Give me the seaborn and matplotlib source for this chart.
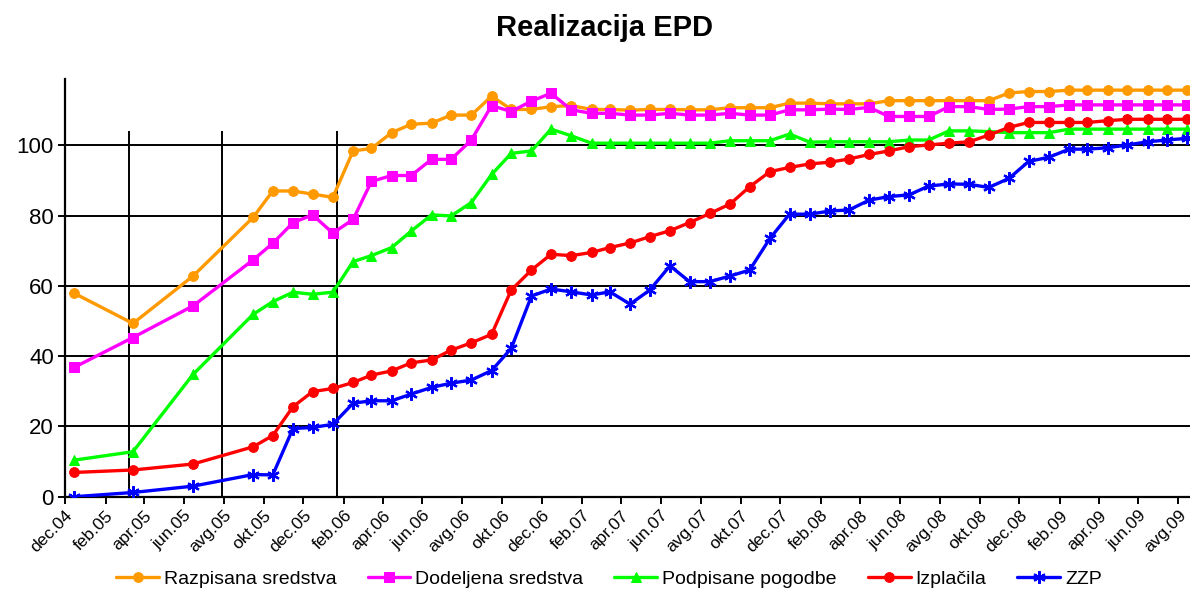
import matplotlib
matplotlib.use("Agg")
import matplotlib.pyplot as plt
import seaborn as sns
import pandas as pd

# ---------------- data ----------------
months = [
    "2004-12", "2005-03", "2005-06", "2005-09", "2005-10", "2005-11", "2005-12",
    "2006-01", "2006-02", "2006-03", "2006-04", "2006-05", "2006-06", "2006-07",
    "2006-08", "2006-09", "2006-10", "2006-11", "2006-12", "2007-01", "2007-02",
    "2007-03", "2007-04", "2007-05", "2007-06", "2007-07", "2007-08", "2007-09",
    "2007-10", "2007-11", "2007-12", "2008-01", "2008-02", "2008-03", "2008-04",
    "2008-05", "2008-06", "2008-07", "2008-08", "2008-09", "2008-10", "2008-11",
    "2008-12", "2009-01", "2009-02", "2009-03", "2009-04", "2009-05", "2009-06",
    "2009-07", "2009-08",
]

razpisana = [57.9, 49.3, 62.8, 79.5, 87.0, 87.0, 86.1, 85.2, 98.4, 99.1, 103.6,
             106.0, 106.3, 108.6, 108.6, 114.0, 110.2, 110.2, 111.0, 111.3, 110.2,
             110.2, 110.0, 110.2, 110.2, 110.1, 110.1, 110.7, 110.7, 110.7, 112.0,
             112.0, 111.8, 111.8, 111.8, 112.7, 112.7, 112.7, 112.7, 112.7, 112.7,
             114.9, 115.3, 115.3, 115.7, 115.7, 115.7, 115.7, 115.7, 115.7, 115.7]

dodeljena = [36.8, 45.3, 54.3, 67.4, 72.1, 78.0, 80.2, 75.0, 78.9, 89.7, 91.4,
             91.4, 96.0, 96.0, 101.5, 111.3, 109.6, 112.6, 114.8, 110.1, 109.1,
             109.1, 108.6, 108.6, 109.1, 108.6, 108.6, 109.1, 108.6, 108.6, 110.1,
             110.1, 110.3, 110.2, 110.8, 108.2, 108.2, 108.2, 111.0, 111.0, 110.2,
             110.3, 111.0, 111.0, 111.5, 111.5, 111.5, 111.5, 111.5, 111.5, 111.5]

podpisane = [10.4, 12.8, 34.8, 51.9, 55.5, 58.2, 57.6, 58.2, 66.9, 68.6, 70.9,
             75.6, 80.2, 79.9, 83.7, 91.7, 97.7, 98.4, 104.6, 102.7, 100.6,
             100.6, 100.6, 100.6, 100.6, 100.6, 100.6, 101.3, 101.3, 101.3, 103.2,
             100.9, 101.0, 101.0, 101.0, 101.0, 101.5, 101.5, 104.1, 104.1, 103.9,
             103.6, 103.6, 103.6, 104.6, 104.6, 104.6, 104.6, 104.6, 104.6, 104.6]

izplacila = [6.9, 7.6, 9.3, 14.2, 17.4, 25.6, 29.9, 30.8, 32.5, 34.6, 35.8,
             38.1, 38.9, 41.7, 43.8, 46.2, 58.8, 64.5, 69.0, 68.6, 69.5,
             70.9, 72.2, 74.0, 75.7, 78.0, 80.6, 83.3, 88.2, 92.5, 93.7,
             94.7, 95.2, 96.1, 97.4, 98.4, 99.6, 100.1, 100.6, 101.0, 102.9,
             105.1, 106.5, 106.5, 106.5, 106.5, 107.0, 107.4, 107.4, 107.4, 107.4]

zzp = [0.0, 1.2, 3.0, 6.3, 6.2, 19.4, 19.7, 20.6, 26.6, 27.3, 27.3,
       29.2, 31.1, 32.3, 33.2, 35.9, 42.2, 57.1, 59.1, 58.3, 57.4,
       58.3, 54.8, 58.8, 65.7, 61.2, 61.2, 62.8, 64.5, 73.5, 80.4,
       80.4, 81.3, 81.6, 84.4, 85.4, 85.9, 88.4, 89.0, 88.9, 88.0,
       90.6, 95.4, 96.6, 98.9, 98.9, 99.3, 100.1, 101.0, 101.5, 102.0]

series_names = ["Razpisana sredstva", "Dodeljena sredstva", "Podpisane pogodbe",
                "Izplačila", "ZZP"]
event_dates = ["2005-03-09", "2005-07-29", "2006-01-21"]
event_top = 104
month_abbr = ["jan", "feb", "mar", "apr", "maj", "jun", "jul", "avg", "sep",
              "okt", "nov", "dec"]
y_ticks = [0, 20, 40, 60, 80, 100]

# ---------------- plot ----------------
sns.set_style("white")
plt.rcParams['font.family'] = ['Liberation Sans', 'DejaVu Sans']
plt.rcParams['text.color'] = 'black'
plt.rcParams['xtick.color'] = 'black'
plt.rcParams['ytick.color'] = 'black'
plt.rcParams['axes.labelcolor'] = 'black'

dates = pd.to_datetime([m + "-15" for m in months])
values = [razpisana, dodeljena, podpisane, izplacila, zzp]
colors = ["#FF9900", "#FF00FF", "#00FF00", "#FF0000", "#0000FF"]
markers = ["o", "s", "^", "o", (6, 2, 0)]

fig = plt.figure(figsize=(11.9, 5.89), dpi=100)
ax = fig.add_axes([65 / 1190, 1 - 496.7 / 589, 1125 / 1190, 119 * 3.514 / 589])

ax.vlines(pd.to_datetime(event_dates), 0, event_top, colors="black", lw=1.4, zorder=1)

for name, vals, col, mk in zip(series_names, values, colors, markers):
    kw = dict(markersize=7, markeredgecolor=col, markerfacecolor=col)
    if mk == (6, 2, 0):
        kw = dict(markersize=9, markeredgecolor=col, markeredgewidth=1.6)
    sns.lineplot(x=dates, y=vals, ax=ax, color=col, marker=mk, linewidth=2.4,
                 label=name, legend=False, zorder=3, **kw)

ax.set_ylim(0, 119)
ax.set_xlim(pd.Timestamp("2004-12-01"), pd.Timestamp("2009-08-19"))
ax.set_yticks(y_ticks)
ax.set_yticklabels([str(v) for v in y_ticks], fontsize=16)
ax.yaxis.grid(True, color="black", lw=1.4, zorder=0)
ax.xaxis.grid(False)

tick_dates = pd.date_range("2004-12-01", "2009-08-01", freq="2MS")
ax.set_xticks(tick_dates)
ax.set_xticklabels([f"{month_abbr[d.month - 1]}.{d.year % 100:02d}" for d in tick_dates],
                   rotation=45, ha="right", va="top", rotation_mode="anchor",
                   fontsize=12.5)
ax.tick_params(axis="both", direction="out", length=5, width=1.4, color="black",
               bottom=True, left=True, pad=3)
ax.set_xlabel("")
ax.set_ylabel("")

for s in ["top", "right"]:
    ax.spines[s].set_visible(False)
for s in ["left", "bottom"]:
    ax.spines[s].set_color("black")
    ax.spines[s].set_linewidth(1.6)

fig.text(605 / 1190, 1 - 28 / 589, "Realizacija EPD", ha="center", va="center",
         fontsize=21, fontweight="bold")

handles, labels = ax.get_legend_handles_labels()
fig.legend(handles, labels, loc="center", bbox_to_anchor=(609 / 1190, 1 - 579 / 589),
           ncol=5, frameon=False, fontsize=14, handlelength=2.2, handletextpad=0.25,
           columnspacing=1.6, borderpad=0)

fig.savefig("out.png", dpi=100)
